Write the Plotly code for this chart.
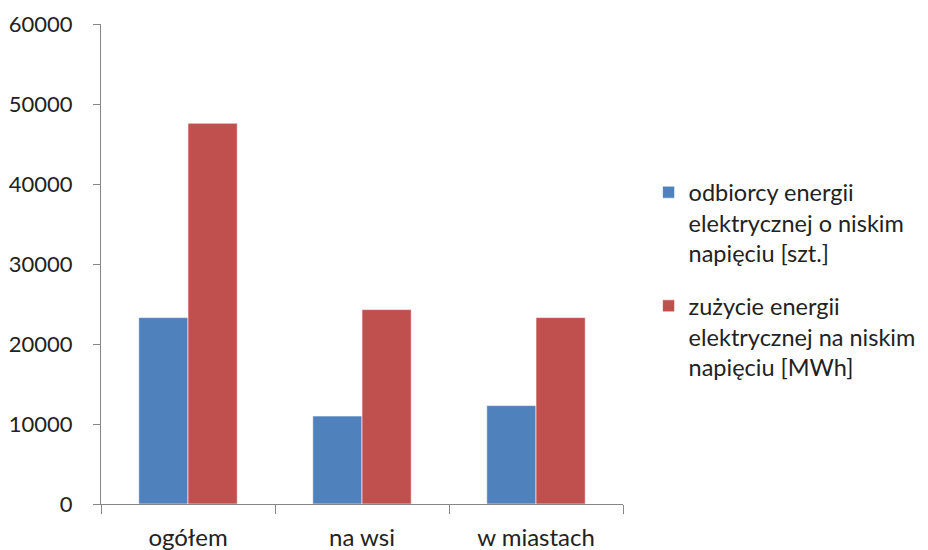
import plotly.graph_objects as go

categories = ["ogółem", "na wsi", "w miastach"]
series_names = [
    "odbiorcy energii<br>elektrycznej o niskim<br>napięciu [szt.]",
    "zużycie energii<br>elektrycznej na niskim<br>napięciu [MWh]",
]
odbiorcy = [23300, 11000, 12300]
zuzycie = [47600, 24300, 23300]
y_ticks = [0, 10000, 20000, 30000, 40000, 50000, 60000]

FONT = "Lato, Calibri, sans-serif"
AX = "#868686"

fig = go.Figure()
fig.add_trace(go.Bar(x=categories, y=odbiorcy, name=series_names[0], legendgroup="a",
                     marker=dict(color="#4F81BD", line=dict(color="rgba(255,255,255,0.6)", width=1))))
fig.add_trace(go.Bar(x=categories, y=zuzycie, name=series_names[1], legendgroup="b",
                     marker=dict(color="#C0504D", line=dict(color="rgba(255,255,255,0.6)", width=1))))

fig.update_layout(
    width=920, height=542,
    margin=dict(l=93, r=305, t=16, b=46, autoexpand=False),
    paper_bgcolor="white", plot_bgcolor="white",
    font=dict(family=FONT, size=22, color="#222222"),
    barmode="group", bargap=0.434, bargroupgap=0,
    showlegend=True,
    legend=dict(x=1.049, y=0.695, xanchor="left", yanchor="top",
                valign="top", font=dict(family=FONT, size=23.5, color="#222222"),
                tracegroupgap=19, itemwidth=30, bgcolor="rgba(0,0,0,0)"),
    xaxis=dict(showline=True, linecolor=AX, linewidth=1, automargin=False,
               ticks="outside", tickson="boundaries", ticklen=9, tickcolor=AX,
               ticklabelstandoff=12,
               showgrid=False, tickfont=dict(family=FONT, size=24, color="#222222")),
    yaxis=dict(range=[0, 60000], tickvals=y_ticks, ticktext=[str(v) for v in y_ticks],
               showline=True, linecolor=AX, linewidth=1, automargin=False,
               ticks="outside", ticklen=7, tickcolor=AX, showgrid=False, zeroline=False,
               ticklabelstandoff=16,
               tickfont=dict(family=FONT, size=22, color="#222222")),
)

fig.write_html("out.html")
